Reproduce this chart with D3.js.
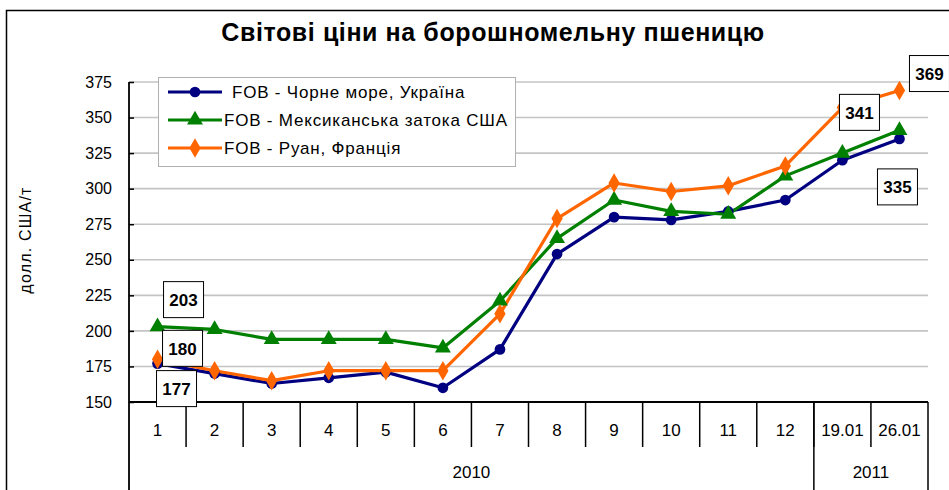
<!DOCTYPE html>
<html><head><meta charset="utf-8">
<script src="https://cdn.jsdelivr.net/npm/d3@7"></script>
<style>
html,body{margin:0;padding:0;background:#fff;}
svg{display:block;font-family:"Liberation Sans",Arial,sans-serif;}
</style></head>
<body>
<svg id="chart" width="949" height="490"></svg>
<script>
const title = "Світові ціни на борошномельну пшеницю";
const yTitle = "долл. США/т";
const categories = ["1","2","3","4","5","6","7","8","9","10","11","12","19.01","26.01"];
const catYear = ["2010","2010","2010","2010","2010","2010","2010","2010","2010","2010","2010","2010","2011","2011"];
const years = ["2010","2011"];
const yTicks = [150,175,200,225,250,275,300,325,350,375];
const seriesNames = ["FOB - Чорне море, Україна","FOB - Мексиканська затока США","FOB - Руан, Франція"];
const ukraine = [177,170,163,167,171,160,187,254,280,278,284,292,320,335];
const usa     = [203,201,194,194,194,188,221,265,292,284,282,309,325,341];
const rouen   = [180,172,165,172,172,172,212,279,304,298,302,316,357,369];
// data labels: [series index, category index]
const dataLabels = [[1,0],[2,0],[0,0],[1,13],[0,13],[2,13]];

const series = [
  {name: seriesNames[0], values: ukraine, color: "#000080", marker: "circle"},
  {name: seriesNames[1], values: usa, color: "#008000", marker: "triangle"},
  {name: seriesNames[2], values: rouen, color: "#FF6600", marker: "diamond"}
];
const labelOffsets = [[26,-27],[25,-11],[19,25],[-40,-18],[-2,48],[30,-17]];

const svg = d3.select("#chart");
const L = 129, R = 928, T = 82, B = 402;
const x = d3.scaleBand().domain(categories).range([L, R]).padding(0);
const y = d3.scaleLinear().domain([150, 375]).range([B, T]);

// outer frame
svg.append("rect").attr("x", 6.5).attr("y", 10.5).attr("width", 960).attr("height", 500)
  .attr("fill", "none").attr("stroke", "#000").attr("stroke-width", 1.5);

// title
svg.append("text").attr("x", 493).attr("y", 41).attr("text-anchor", "middle")
  .attr("font-size", 25).attr("letter-spacing", 0.6).attr("font-weight", "bold").text(title);

// gridlines
svg.append("g").selectAll("line").data(yTicks.filter(d => d > 150)).join("line")
  .attr("x1", L).attr("x2", R).attr("y1", d => y(d)).attr("y2", d => y(d))
  .attr("stroke", "#c4c4c4").attr("stroke-width", 1.6);

// y axis
const yAxis = svg.append("g").attr("transform", `translate(${L},0)`)
  .call(d3.axisLeft(y).tickValues(yTicks).tickSize(-5).tickPadding(17));
yAxis.select(".domain").remove();
yAxis.selectAll(".tick line").attr("stroke", "#000").attr("stroke-width", 1.5);
yAxis.selectAll(".tick text").attr("font-size", 16).attr("font-family", "Liberation Sans, Arial, sans-serif").attr("fill", "#000");
svg.append("line").attr("x1", L).attr("x2", L).attr("y1", T).attr("y2", 490)
  .attr("stroke", "#000").attr("stroke-width", 1.8);

// y title
svg.append("text").attr("transform", "translate(31,240) rotate(-90)")
  .attr("text-anchor", "middle").attr("font-size", 16).attr("letter-spacing", 1.2).text(yTitle);

// x axis
const xAxis = svg.append("g").attr("transform", `translate(0,${B})`)
  .call(d3.axisBottom(x).tickSize(0).tickPadding(22));
xAxis.select(".domain").remove();
xAxis.selectAll(".tick text").attr("font-size", 17).attr("font-family", "Liberation Sans, Arial, sans-serif").attr("fill", "#000");
svg.append("line").attr("x1", L).attr("x2", R).attr("y1", B).attr("y2", B)
  .attr("stroke", "#000").attr("stroke-width", 1.8);
// category separators
svg.append("g").selectAll("line").data(categories.slice(1)).join("line")
  .attr("x1", d => x(d)).attr("x2", d => x(d)).attr("y1", B).attr("y2", 447)
  .attr("stroke", "#000").attr("stroke-width", 1.5);
// year groups
const yearSpans = years.map(yr => {
  const cs = categories.filter((c, i) => catYear[i] === yr);
  return {yr, x0: x(cs[0]), x1: x(cs[cs.length - 1]) + x.bandwidth()};
});
svg.append("g").selectAll("line").data(yearSpans).join("line")
  .attr("x1", d => d.x1).attr("x2", d => d.x1).attr("y1", B).attr("y2", 490)
  .attr("stroke", "#000").attr("stroke-width", 1.5);
svg.append("g").selectAll("text").data(yearSpans).join("text")
  .attr("x", d => (d.x0 + d.x1) / 2).attr("y", 478).attr("text-anchor", "middle")
  .attr("font-size", 17).text(d => d.yr);

// lines
const line = d3.line().x((d, i) => x(categories[i]) + x.bandwidth() / 2).y(d => y(d));
const sym = {circle: d3.symbolCircle, triangle: d3.symbolTriangle, diamond: d3.symbolDiamond};
const symSize = {circle: 90, triangle: 110, diamond: 110};
series.forEach(s => {
  svg.append("path").datum(s.values).attr("d", line).attr("fill", "none")
    .attr("stroke", s.color).attr("stroke-width", 3.2).attr("stroke-linejoin", "round");
});
series.forEach(s => {
  svg.append("g").selectAll("path").data(s.values).join("path")
    .attr("transform", (d, i) => `translate(${x(categories[i]) + x.bandwidth() / 2},${y(d)})`)
    .attr("d", d3.symbol().type(sym[s.marker]).size(symSize[s.marker])).attr("fill", s.color);
});

// data labels
dataLabels.forEach((dl, k) => {
  const s = series[dl[0]], ci = dl[1];
  const cx = x(categories[ci]) + x.bandwidth() / 2 + labelOffsets[k][0];
  const cy = y(s.values[ci]) + labelOffsets[k][1];
  const g = svg.append("g").attr("transform", `translate(${cx},${cy})`);
  g.append("rect").attr("x", -20).attr("y", -18).attr("width", 40).attr("height", 36)
    .attr("fill", "#fff").attr("stroke", "#000").attr("stroke-width", 1);
  g.append("text").attr("text-anchor", "middle").attr("y", 6.5).attr("font-size", 17)
    .attr("font-weight", "bold").text(s.values[ci]);
});

// legend
const lg = svg.append("g");
lg.append("rect").attr("x", 158.5).attr("y", 77.5).attr("width", 357).attr("height", 89)
  .attr("fill", "#fff").attr("stroke", "#b0b0b0").attr("stroke-width", 1);
const legY = [92, 120, 148];
const legTextX = [232, 224, 224];
series.forEach((s, i) => {
  lg.append("line").attr("x1", 168).attr("x2", 222).attr("y1", legY[i]).attr("y2", legY[i])
    .attr("stroke", s.color).attr("stroke-width", 3.2);
  lg.append("path").attr("transform", `translate(195,${legY[i]})`)
    .attr("d", d3.symbol().type(sym[s.marker]).size(symSize[s.marker])).attr("fill", s.color);
  lg.append("text").attr("x", legTextX[i]).attr("y", legY[i] + 6).attr("font-size", 17)
    .attr("letter-spacing", 0.8).text(s.name);
});
</script>
</body></html>
